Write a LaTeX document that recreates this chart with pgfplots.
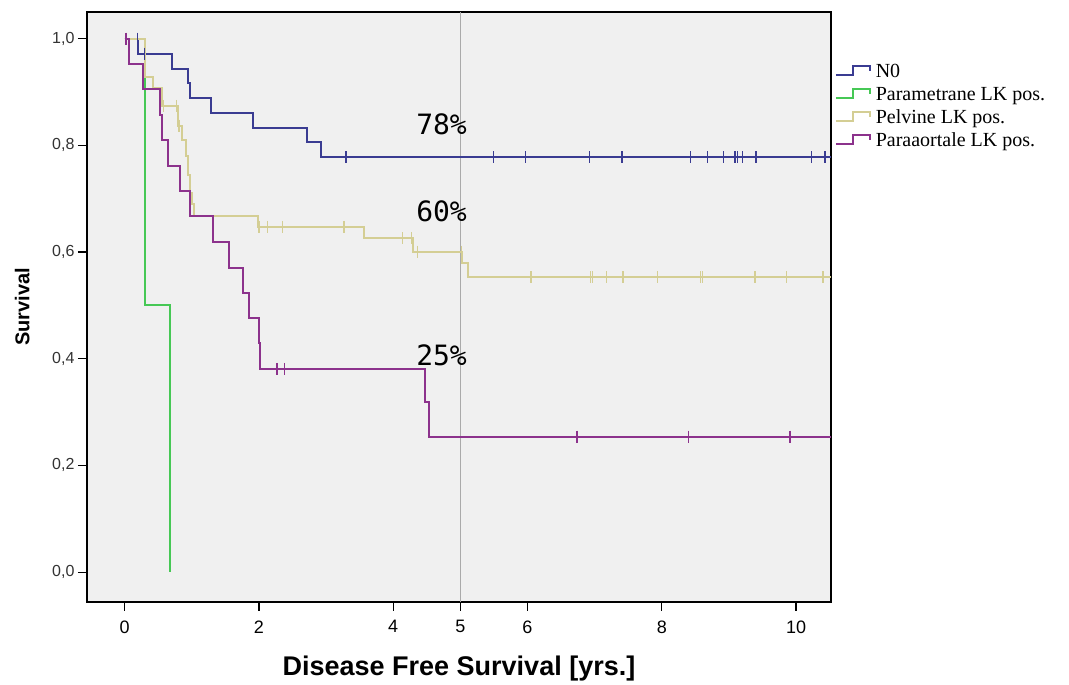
\documentclass[border=0pt]{standalone}
\usepackage{fontspec}
\setmainfont{Liberation Sans}
\newfontfamily\legfont{Liberation Serif}
\newfontfamily\pctfont{DejaVu Sans Mono}
\usepackage{pgfplots}
\pgfplotsset{compat=1.18}

\definecolor{cNO}{RGB}{58,60,146}
\definecolor{cPara}{RGB}{70,200,85}
\definecolor{cPelv}{RGB}{212,206,148}
\definecolor{cAort}{RGB}{140,50,140}
\definecolor{bg}{RGB}{240,240,240}
\definecolor{gridgray}{RGB}{170,170,170}

\begin{document}
\begin{tikzpicture}
\begin{axis}[
    at={(87pt,82pt)}, anchor=south west,
    scale only axis, width=744pt, height=590pt,
    xmin=-0.56, xmax=10.52, ymin=-0.056, ymax=1.05,
    axis background/.style={fill=bg},
    axis line style={black, line width=1.2pt},
    xtick={0,2,4,6,8,10},
    extra x ticks={5},
    extra x tick style={grid=major, major grid style={draw=gridgray, line width=1.5pt}},
    ytick={0,0.2,0.4,0.6,0.8,1},
    tick align=outside, xtick pos=bottom, ytick pos=left,
    major tick length=9pt,
    tick style={black, line width=1.2pt},
    /pgf/number format/assume math mode=true,
    xticklabel style={font=\fontsize{18}{18}\selectfont, yshift=-6pt},
    yticklabel style={font=\fontsize{16}{16}\selectfont, text=black!80,
        /pgf/number format/.cd, fixed, fixed zerofill, precision=1, use comma},
    xlabel={Disease Free Survival [yrs.]},
    ylabel={Survival},
    xlabel style={font=\bfseries\fontsize{27}{27}\selectfont, at={(axis description cs:0.5,-0.113)}, anchor=center},
    ylabel style={font=\bfseries\fontsize{20}{20}\selectfont, at={(axis description cs:-0.087,0.5)}, anchor=center},
    legend image code/.code={\draw[#1, line width=1.6pt] (0pt,-3pt) -- (17pt,-3pt) -- (17pt,6pt) -- (34pt,6pt) -- (34pt,1pt);},
    legend cell align=left,
    legend style={at={(axis description cs:1.004,0.917)}, anchor=north west,
        draw=none, fill=white, inner sep=1pt, row sep=3pt, column sep=4pt,
        font=\legfont\fontsize{20}{20}\selectfont,
        nodes={inner sep=1pt, text height=14pt, text depth=4pt}},
    km/.style={const plot, line width=2pt, mark=none},
    censor/.style={only marks, mark=|, mark size=6pt, mark options={line width=1.4pt}, forget plot},
]

% NO
\addplot[km, draw=cNO] coordinates {
  (0,1) (0.20,0.972) (0.70,0.944) (0.94,0.917) (0.98,0.889) (1.29,0.861)
  (1.91,0.833) (2.71,0.806) (2.93,0.778) (10.52,0.778)
};
\addlegendentry{N0}

% Parametrane LK pos.
\addplot[km, draw=cPara] coordinates {
  (0,1) (0.31,0.5) (0.67,0)
};
\addlegendentry{Parametrane LK pos.}

% Pelvine LK pos.
\addplot[km, draw=cPelv] coordinates {
  (0,1) (0.31,0.928) (0.43,0.907) (0.56,0.874) (0.80,0.837) (0.86,0.810)
  (0.91,0.780) (0.95,0.745) (0.98,0.710) (1.00,0.690) (1.03,0.667)
  (1.98,0.647) (3.56,0.626) (4.29,0.601) (5.03,0.579) (5.11,0.553) (10.52,0.553)
};
\addlegendentry{Pelvine LK pos.}

% Paraaortale LK pos.
\addplot[km, draw=cAort] coordinates {
  (0,1) (0.06,0.952) (0.28,0.905) (0.53,0.857) (0.55,0.810) (0.64,0.762)
  (0.83,0.714) (0.97,0.667) (1.31,0.619) (1.55,0.571) (1.77,0.524)
  (1.85,0.476) (2.00,0.429) (2.02,0.381) (4.47,0.318) (4.54,0.254) (10.52,0.254)
};
\addlegendentry{Paraaortale LK pos.}

% censored observations
\addplot[censor, color=cNO] coordinates {
  (0.19,1) (0.30,0.972) (3.30,0.778) (5.49,0.778) (5.97,0.778) (6.92,0.778)
  (7.41,0.778) (8.43,0.778) (8.68,0.778) (8.92,0.778) (9.09,0.778)
  (9.13,0.778) (9.20,0.778) (9.40,0.778) (10.23,0.778) (10.43,0.778)
};
\addplot[censor, color=cPelv] coordinates {
  (0.58,0.874) (0.77,0.874) (0.81,0.837) (2.00,0.647) (2.13,0.647)
  (2.35,0.647) (3.27,0.647) (4.14,0.626) (4.27,0.626) (4.36,0.601)
  (5.02,0.601) (6.05,0.553) (6.94,0.553) (6.97,0.553) (7.18,0.553)
  (7.42,0.553) (7.94,0.553) (8.58,0.553) (8.61,0.553) (9.39,0.553)
  (9.86,0.553) (10.40,0.553)
};
\addplot[censor, color=cAort] coordinates {
  (0.02,1) (2.27,0.381) (2.38,0.381) (6.74,0.254) (8.40,0.254) (9.91,0.254)
};

\node[font=\pctfont\fontsize{28}{28}\selectfont, inner sep=0pt] at (axis cs:4.72,0.84) {78\%};
\node[font=\pctfont\fontsize{28}{28}\selectfont, inner sep=0pt] at (axis cs:4.72,0.676) {60\%};
\node[font=\pctfont\fontsize{28}{28}\selectfont, inner sep=0pt] at (axis cs:4.72,0.406) {25\%};
\end{axis}
\path[use as bounding box] (0,0) rectangle (1069pt,684pt);
\end{tikzpicture}
\end{document}
